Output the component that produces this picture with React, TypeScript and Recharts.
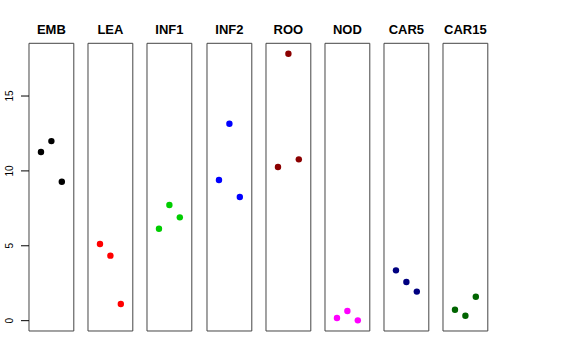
import React from 'react';
import { ScatterChart, Scatter, XAxis, YAxis, ReferenceArea } from 'recharts';

const panels = ['EMB', 'LEA', 'INF1', 'INF2', 'ROO', 'NOD', 'CAR5', 'CAR15'];
const rep1 = [11.26, 5.12, 6.14, 9.39, 10.26, 0.18, 3.36, 0.73];
const rep2 = [11.99, 4.34, 7.72, 13.15, 17.82, 0.65, 2.58, 0.33];
const rep3 = [9.28, 1.11, 6.9, 8.26, 10.77, 0.02, 1.94, 1.6];
const replicateIndex = [1, 2, 3];
const yTicks = [0, 5, 10, 15];
const colors = ['#000000', '#FF0000', '#00CD00', '#0000FF', '#8B0000', '#FF00FF', '#000080', '#006400'];

const Y_DOMAIN: [number, number] = [-0.69, 18.52];
const X_DOMAIN: [number, number] = [-0.15, 4.15];

const FONT = '"Liberation Sans", Arial, Helvetica, sans-serif';
const FIRST_LEFT = 29;
const STEP = 59.19;
const PANEL_W = 44.8;
const AXIS_W = 29;
const TOP = 43.3;
const BOTTOM = 360 - 331;

const YTick = (props: any) => {
  const { x, y, payload } = props;
  return (
    <text
      x={x}
      y={y}
      transform={`rotate(-90, ${x}, ${y})`}
      textAnchor="middle"
      fontSize={10}
      fontFamily={FONT}
      fill="#000"
    >
      {payload.value}
    </text>
  );
};

function Panel({ idx }: { idx: number }) {
  const color = colors[idx];
  const vals = [rep1[idx], rep2[idx], rep3[idx]];
  const data = replicateIndex.map((r, k) => ({ x: r, y: vals[k] }));
  const left = FIRST_LEFT + STEP * idx - AXIS_W;
  const width = AXIS_W + PANEL_W + 4;
  return (
    <div style={{ position: 'absolute', left, top: 0 }}>
      <ScatterChart
        width={width}
        height={360}
        margin={{ top: TOP, bottom: BOTTOM, left: idx === 0 ? 0 : AXIS_W, right: 4 }}
      >
        <XAxis dataKey="x" type="number" domain={X_DOMAIN} hide allowDataOverflow />
        <YAxis
          dataKey="y"
          type="number"
          domain={Y_DOMAIN}
          ticks={yTicks}
          hide={idx !== 0}
          width={AXIS_W}
          tickSize={8}
          tickMargin={8}
          axisLine={false}
          tickLine={{ stroke: '#000', strokeWidth: 1 }}
          tick={<YTick />}
          allowDataOverflow
          interval={0}
        />
        <ReferenceArea
          x1={X_DOMAIN[0]}
          x2={X_DOMAIN[1]}
          y1={Y_DOMAIN[0]}
          y2={Y_DOMAIN[1]}
          fill="none"
          fillOpacity={0}
          stroke="#444"
          strokeWidth={1}
          ifOverflow="visible"
          label={{
            value: panels[idx],
            position: 'top',
            offset: 9.3,
            fontSize: 13,
            fontWeight: 'bold',
            fontFamily: FONT,
            fill: '#000',
          }}
        />
        <Scatter
          data={data}
          isAnimationActive={false}
          shape={(p: any) => <circle cx={p.cx} cy={p.cy} r={3.2} fill={color} />}
        />
      </ScatterChart>
    </div>
  );
}

export default function App() {
  return (
    <div style={{ position: 'absolute', left: 0, top: 0, width: 576, height: 360, background: '#fff' }}>
      {panels.map((_, i) => (
        <Panel key={panels[i]} idx={i} />
      ))}
    </div>
  );
}
